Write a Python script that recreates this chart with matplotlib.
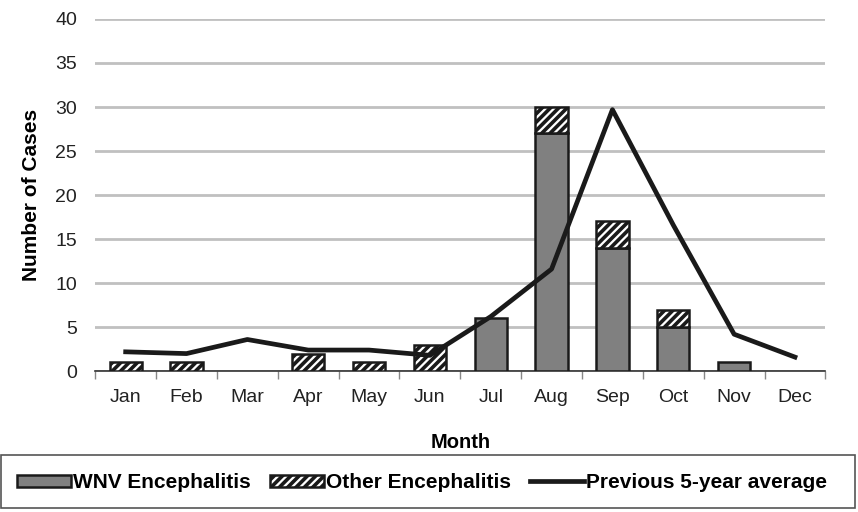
import matplotlib.pyplot as plt
import numpy as np
from matplotlib.patches import Patch, Rectangle
from matplotlib.lines import Line2D

plt.rcParams['font.family'] = ['Liberation Sans', 'DejaVu Sans']
plt.rcParams['hatch.linewidth'] = 2.6

months = ['Jan', 'Feb', 'Mar', 'Apr', 'May', 'Jun',
          'Jul', 'Aug', 'Sep', 'Oct', 'Nov', 'Dec']
wnv = [0, 0, 0, 0, 0, 0, 6, 27, 14, 5, 1, 0]
other = [1, 1, 0, 2, 1, 3, 0, 3, 3, 2, 0, 0]
avg5 = [2.2, 2.0, 3.6, 2.4, 2.4, 1.8, 6.2, 11.6, 29.7, 16.6, 4.2, 1.6]

fig = plt.figure(figsize=(8.58, 5.12), dpi=100)
ax = fig.add_axes([0.111, 0.275, 0.851, 0.688])

x = np.arange(len(months))
w = 0.53
wnv_a = np.array(wnv, dtype=float)
oth_a = np.array(other, dtype=float)
m1 = wnv_a > 0
m2 = oth_a > 0
ax.bar(x[m1], wnv_a[m1], w, color='#808080', edgecolor='#1a1a1a', linewidth=1.8, zorder=3)
ax.bar(x[m2], oth_a[m2], w, bottom=wnv_a[m2], color='white', edgecolor='#1a1a1a',
       hatch='////', linewidth=1.8, zorder=3)
ax.plot(x, avg5, color='#1a1a1a', linewidth=3.4, zorder=4)

ax.set_xlim(-0.5, 11.5)
ax.set_ylim(0, 40)
ax.set_yticks(range(0, 41, 5))
ax.yaxis.grid(True, color='#c0c0c0', linewidth=2, zorder=0)
ax.set_axisbelow(True)
for s in ['top', 'right', 'left']:
    ax.spines[s].set_visible(False)
ax.spines['bottom'].set_color('#333333')
ax.spines['bottom'].set_linewidth(1.2)
ax.set_xticks(np.arange(-0.5, 12, 1), minor=False)
ax.set_xticklabels([])
ax.set_xticks(x, minor=True)
ax.set_xticklabels(months, minor=True)
ax.tick_params(axis='x', which='major', length=6, color='#888888', width=1)
ax.tick_params(axis='x', which='minor', length=0, labelsize=14, pad=13, colors='#222222')
ax.tick_params(axis='y', length=0, labelsize=14, pad=13, colors='#222222')

ax.set_xlabel('Month', fontsize=14.5, fontweight='bold', labelpad=19)
ax.set_ylabel('Number of Cases', fontsize=15, fontweight='bold', labelpad=10)

# legend frame across the bottom
fig.patches.append(Rectangle((0.001, 0.008), 0.995, 0.103, transform=fig.transFigure,
                             facecolor='white', edgecolor='#555555', linewidth=1.2))
handles = [
    Patch(facecolor='#808080', edgecolor='#1a1a1a', linewidth=1.8),
    Patch(facecolor='white', edgecolor='#1a1a1a', hatch='////', linewidth=1.8),
    Line2D([0], [0], color='#1a1a1a', linewidth=3.4),
]
labels = ['WNV Encephalitis', 'Other Encephalitis', 'Previous 5-year average']
fig.legend(handles, labels, loc='center', bbox_to_anchor=(0.492, 0.057),
           ncol=3, frameon=False, prop={'weight': 'bold', 'size': 15},
           handlelength=2.6, handleheight=0.55, handletextpad=0.1, columnspacing=0.9)

fig.savefig('out.png', dpi=100, facecolor='white')
